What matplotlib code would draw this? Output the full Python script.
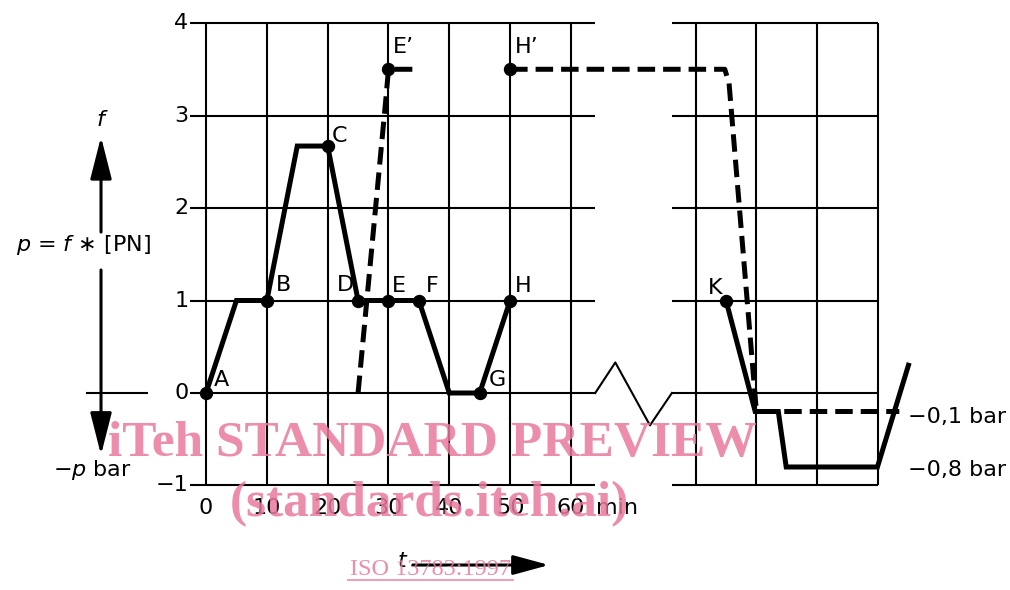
import matplotlib
matplotlib.use("Agg")
import matplotlib.pyplot as plt

# ---- data ----
x_ticks = [0, 10, 20, 30, 40, 50, 60]
x_tick_labels = ["0", "10", "20", "30", "40", "50", "60"]
y_ticks = [-1, 0, 1, 2, 3, 4]
y_tick_labels = ["\u22121", "0", "1", "2", "3", "4"]
right_grid_x = [80.5, 90.5, 100.5, 110.5]

solid_t = [0, 5, 10, 15, 20, 25, 30, 35, 40, 45, 50]
solid_f = [0, 1, 1, 2.67, 2.67, 1, 1, 1, 0, 0, 1]
solid2_t = [85.5, 90.3, 94.1, 95.4, 110.4, 115.5]
solid2_f = [1, -0.2, -0.2, -0.8, -0.8, 0.3]
dash1_t = [25, 29.6, 30, 35]
dash1_f = [0, 3.2, 3.5, 3.5]
dash2_t = [50, 85.3, 86.0, 90.5, 114]
dash2_f = [3.5, 3.5, 3.35, -0.2, -0.2]
zig_t = [64, 67.3, 73, 76.6]
zig_f = [0, 0.33, -0.35, 0]

point_names = ["A", "B", "C", "D", "E", "F", "G", "H", "E\u2019", "H\u2019", "K"]
point_t = [0, 10, 20, 25, 30, 35, 45, 50, 30, 50, 85.5]
point_f = [0, 1, 2.67, 1, 1, 1, 0, 1, 3.5, 3.5, 1]
label_t = [2.6, 12.8, 22.0, 23.0, 31.7, 37.2, 47.9, 52.1, 32.4, 52.7, 83.7]
label_f = [0.14, 1.17, 2.78, 1.17, 1.16, 1.16, 0.14, 1.16, 3.74, 3.74, 1.14]

fig = plt.figure(figsize=(10.1, 5.9), dpi=100)
ax = fig.add_axes([0, 0, 1, 1])
ax.set_xlim(-33.88, 132.2)
ax.set_ylim(-2.13, 4.249)
ax.axis("off")

K = "black"
glw = 1.5
fs = 16

# left grid
ax.hlines(y_ticks, -2.6, 64, color=K, lw=glw)
ax.vlines(x_ticks, -1, 4, color=K, lw=glw)
# right grid
ax.hlines(y_ticks, 76.6, right_grid_x[-1], color=K, lw=glw)
ax.vlines(right_grid_x, -1, 4, color=K, lw=glw)
# break zigzag
ax.plot(zig_t, zig_f, color=K, lw=glw)

# tick labels
for v, s in zip(y_ticks, y_tick_labels):
    ax.text(-2.9, v, s, ha="right", va="center", fontsize=fs)
for v, s in zip(x_ticks, x_tick_labels):
    ax.text(v, -1.24, s, ha="center", va="center", fontsize=fs)
ax.text(64.2, -1.24, "min", ha="left", va="center", fontsize=fs)

# curves
ax.plot(solid_t, solid_f, color=K, lw=3.6, solid_joinstyle="miter")
ax.plot(solid2_t, solid2_f, color=K, lw=3.6, solid_joinstyle="miter")
ax.plot(dash1_t, dash1_f, color=K, lw=3.6, dashes=(3.5, 1.6), dash_capstyle="butt")
ax.plot(dash2_t, dash2_f, color=K, lw=3.6, dashes=(3.5, 1.6), dash_capstyle="butt")
ax.plot(point_t, point_f, "o", color=K, ms=8.6)
for n, tx, ty in zip(point_names, label_t, label_f):
    ax.text(tx, ty, n, ha="center", va="center", fontsize=fs)

ax.text(115.5, -0.26, "\u22120,1 bar", ha="left", va="center", fontsize=fs)
ax.text(115.5, -0.83, "\u22120,8 bar", ha="left", va="center", fontsize=fs)

# left annotation arrows
ap = dict(arrowstyle="-|>,head_length=1.3,head_width=0.33", mutation_scale=20,
          lw=2.2, color=K, shrinkA=0, shrinkB=0)
ax.annotate("", xy=(-17.27, 2.77), xytext=(-17.27, 1.74), arrowprops=ap)
ax.annotate("", xy=(-17.27, -0.67), xytext=(-17.27, 1.33), arrowprops=ap)
ax.hlines([0], -19.7, -9.5, color=K, lw=glw)
ax.text(-17.4, 2.95, "f", ha="center", va="center", fontsize=fs, style="italic")
ax.text(-20.1, 1.6, "$p$ = $f$ \u2217 [PN]", ha="center", va="center", fontsize=fs)
ax.text(-18.75, -0.83, "\u2212$p$ bar", ha="center", va="center", fontsize=fs)

# time arrow
ap2 = dict(arrowstyle="-|>,head_length=1.1,head_width=0.3", mutation_scale=20,
           lw=2.2, color=K, shrinkA=0, shrinkB=0)
ax.annotate("", xy=(56.4, -1.86), xytext=(34.0, -1.86), arrowprops=ap2)
ax.text(32.2, -1.82, "t", ha="center", va="center", fontsize=fs, style="italic")

# watermark
wm = "#E8799C"
ax.text(37.2, -0.68, "iTeh STANDARD PREVIEW", ha="center", va="baseline",
        fontsize=37, family="Liberation Serif", weight="bold", color=wm, alpha=0.85)
ax.text(36.8, -1.33, "(standards.iteh.ai)", ha="center", va="baseline",
        fontsize=37, family="Liberation Serif", weight="bold", color=wm, alpha=0.85)
ax.text(36.9, -1.965, "ISO 13783:1997", ha="center", va="baseline",
        fontsize=17.5, family="Liberation Serif", color=wm, alpha=0.85)
ax.hlines([-2.02], 23.2, 50.7, color=wm, lw=1.2, alpha=0.85)

fig.savefig("out.png", dpi=100)
